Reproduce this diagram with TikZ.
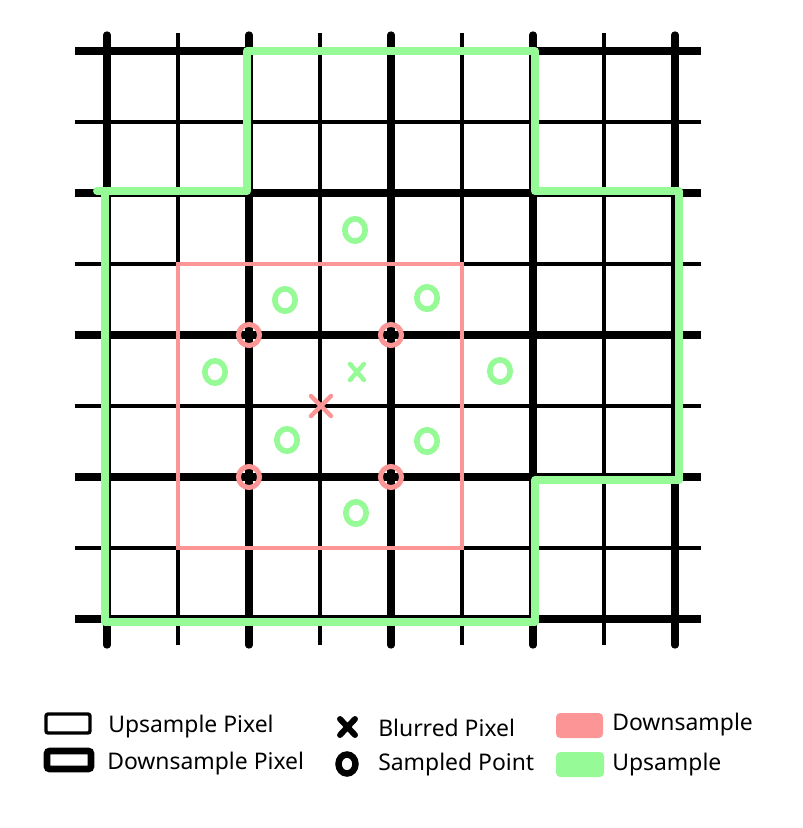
\documentclass[tikz,border=0pt]{standalone}
\usepackage{fontspec}
\setmainfont{Noto Sans}
\usetikzlibrary{positioning, calc}
\definecolor{down-color}{RGB}{252,150,150}
\definecolor{up-color}{RGB}{150,250,150}

\begin{document}
\begin{tikzpicture}[x=0.025cm, y=-0.025cm,
    thinline/.style={line width=2.5pt, black},
    thickline/.style={line width=5.2pt, black},
    uppath/.style={line width=5.6pt, up-color, line join=round, line cap=round},
    downbox/.style={line width=2.4pt, down-color},
    sampled/.style={line width=4pt, up-color},
    cornerpt/.style={line width=3.6pt, down-color},
    cross/.style={line width=3.2pt, line cap=round},
    swatch/.style={rounded corners=3pt, draw=none},
    legend/.style={anchor=west, font=\fontsize{16.3}{19}\selectfont, inner sep=0pt}]

    % Canvas
    \useasboundingbox (0,0) rectangle (802,828);

    % Grid: thin lines first, thick lines on every other one
    \foreach \k in {0,...,8} {
        \pgfmathsetmacro{\p}{51+71*\k}
        \pgfmathsetmacro{\q}{107+71*\k}
        \draw[thinline] (75,\p) -- (701,\p);
        \draw[thinline] (\q,33) -- (\q,645);
    }
    \foreach \k in {0,2,4,6,8} {
        \pgfmathsetmacro{\p}{51+71*\k}
        \pgfmathsetmacro{\q}{107+71*\k}
        \draw[thickline] (75,\p) -- (701,\p);
        \draw[thickline, line cap=round] (\q,35) -- (\q,645);
    }

    % Downsample region
    \draw[downbox] (178,264) rectangle (462,548);

    % Upsample region
    \draw[uppath] (97,191) -- (247,191) -- (247,51) -- (535,51) -- (535,191)
        -- (679,191) -- (679,480) -- (535,480) -- (535,622) -- (105,622) -- (105,194);

    % Downsample corners
    \foreach \cx/\cy in {249/335, 391/335, 249/477, 391/477}
        \draw[cornerpt] (\cx,\cy) circle (10.5);

    % Sampled points
    \foreach \cx/\cy in {355/230, 285/300, 427/298, 215/372, 500/371, 287/440, 427/441, 356/513}
        \draw[sampled] (\cx,\cy) ellipse (10.2 and 11.2);

    % Blurred pixels
    \coordinate (blurup) at (357,372);
    \coordinate (blurdown) at (321,406);
    \draw[cross, up-color] ($(blurup)+(-7,-8)$) -- ($(blurup)+(7,8)$)
        ($(blurup)+(7,-8)$) -- ($(blurup)+(-7,8)$);
    \draw[cross, down-color] ($(blurdown)+(-10,-10)$) -- ($(blurdown)+(10,10)$)
        ($(blurdown)+(10,-10)$) -- ($(blurdown)+(-10,10)$);

    % Legend
    \draw[line width=2.4pt, rounded corners=1.5pt] (46,714) rectangle (90,733);
    \node[legend] (uppix) at (108,727) {Upsample Pixel};
    \draw[line width=4.8pt, rounded corners=2pt] (47,751) rectangle (91,769);
    \node[legend] (downpix) at (107,764) {Downsample Pixel};

    \draw[cross, line width=4.2pt] (340,719) -- (355,735) (355,719) -- (340,735);
    \node[legend] (blurpix) at (378,728) {Blurred Pixel};
    \draw[line width=4.6pt] (347,764) ellipse (8.5 and 9.5);
    \node[legend] (samppt) at (378,765) {Sampled Point};

    \fill[swatch, down-color] (556,713) rectangle (603,738);
    \node[legend] (downlbl) at (612,725) {Downsample};
    \fill[swatch, up-color] (556,752) rectangle (604,777);
    \node[legend] (uplbl) at (612,765) {Upsample};
\end{tikzpicture}
\end{document}
